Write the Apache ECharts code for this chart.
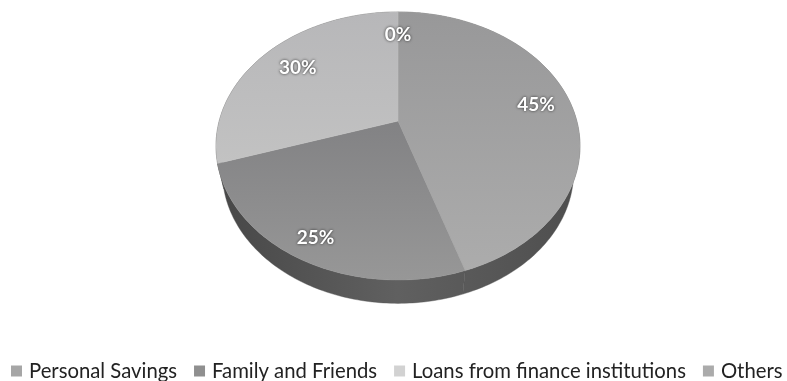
<!DOCTYPE html>
<html>
<head>
<meta charset="utf-8">
<style>html,body{margin:0;padding:0;background:#fff}#chart{width:787px;height:381px}</style>
<script src="https://cdn.jsdelivr.net/npm/echarts@6/dist/echarts.min.js"></script>
</head>
<body>
<div id="chart"></div>
<script>
// Sources of funding, shown as a tilted 3D pie.
const categories = ['Personal Savings', 'Family and Friends', 'Loans from finance institutions', 'Others'];
const shares = [45, 25, 30, 0];
const topColors = [['#989899', '#acacac'], ['#828284', '#979797'], ['#b7b7b9', '#c2c2c2'], ['#a8a8a8', '#a8a8a8']];
const legendColors = ['#a6a6a6', '#8f8f8f', '#d2d2d2', '#ababab'];
const labelRadii = [0.8, 0.87, 0.75, 0.76];

const total = shares.reduce((a, b) => a + b, 0);

// Perspective projection of a unit disc onto the tilted pie plane.
const apexX = 398, apexY = 121, spanX = 178.8, spanY = 106.8, tilt = -0.1866;
function project(u, v) {
  const d = 1 + tilt * v;
  return [apexX + spanX * u / d, (apexY + spanY * v) / d];
}
function onDisc(fraction, radius) {
  const a = fraction * 2 * Math.PI;
  return project(radius * Math.sin(a), -radius * Math.cos(a));
}
// Lower rim of the pie's side wall, derived from a point on the upper rim.
function lowerRim(p) {
  return [apexX + (p[0] - apexX) * 0.965, 172 + (p[1] - 146) * 0.98];
}
// One gradient across the whole wall, so neighbouring slices join without a seam.
const wallFill = {
  type: 'linear', global: true, x: 215, y: 0, x2: 580, y2: 0,
  colorStops: [
    { offset: 0, color: '#474747' },
    { offset: 0.5, color: '#606060' },
    { offset: 1, color: '#4e4e4e' }
  ]
};

function sliceRenderer(index) {
  return function () {
    const before = shares.slice(0, index).reduce((a, b) => a + b, 0);
    const start = before / total;
    const end = (before + shares[index]) / total;
    const children = [];
    if (end > start) {
      const rim = [];
      const steps = Math.max(2, Math.ceil((end - start) * 360));
      for (let i = 0; i <= steps; i++) rim.push(onDisc(start + (end - start) * i / steps, 1));
      children.push({
        type: 'polygon',
        z2: 1,
        shape: { points: rim.concat(rim.map(lowerRim).reverse()) },
        style: { fill: wallFill, stroke: '#565656', lineWidth: 0.4 }
      });
      children.push({
        type: 'polygon',
        z2: 2,
        shape: { points: [project(0, 0)].concat(rim) },
        style: {
          fill: { type: 'linear', x: 0, y: 0, x2: 0, y2: 1, colorStops: [
            { offset: 0, color: topColors[index][0] }, { offset: 1, color: topColors[index][1] }
          ] },
          stroke: topColors[index][1],
          lineWidth: 0.4
        }
      });
    }
    const at = onDisc((start + end) / 2, labelRadii[index]);
    children.push({
      type: 'text',
      z2: 5,
      style: {
        text: Math.round(shares[index] / total * 100) + '%',
        x: at[0], y: at[1],
        fill: '#ffffff',
        font: 'bold 19px Lato, "Open Sans", sans-serif',
        align: 'center',
        verticalAlign: 'middle',
        textShadowBlur: 3,
        textShadowColor: '#2a2a2a'
      }
    });
    return { type: 'group', children };
  };
}

const chart = echarts.init(document.getElementById('chart'), null, { renderer: 'canvas' });
chart.setOption({
  backgroundColor: '#ffffff',
  animation: false,
  legend: {
    left: 11,
    top: 361,
    width: 776,
    padding: 0,
    icon: 'rect',
    itemWidth: 11,
    itemHeight: 11,
    itemGap: 17,
    selectedMode: false,
    textStyle: { fontFamily: 'Lato, "Open Sans", sans-serif', fontSize: 20.3, color: '#222222', padding: [0, 0, 0, 2] },
    data: categories
  },
  series: categories.map((name, i) => ({
    type: 'custom',
    name,
    coordinateSystem: 'none',
    silent: true,
    itemStyle: { color: legendColors[i] },
    data: [shares[i]],
    renderItem: sliceRenderer(i)
  }))
});
</script>
</body>
</html>
